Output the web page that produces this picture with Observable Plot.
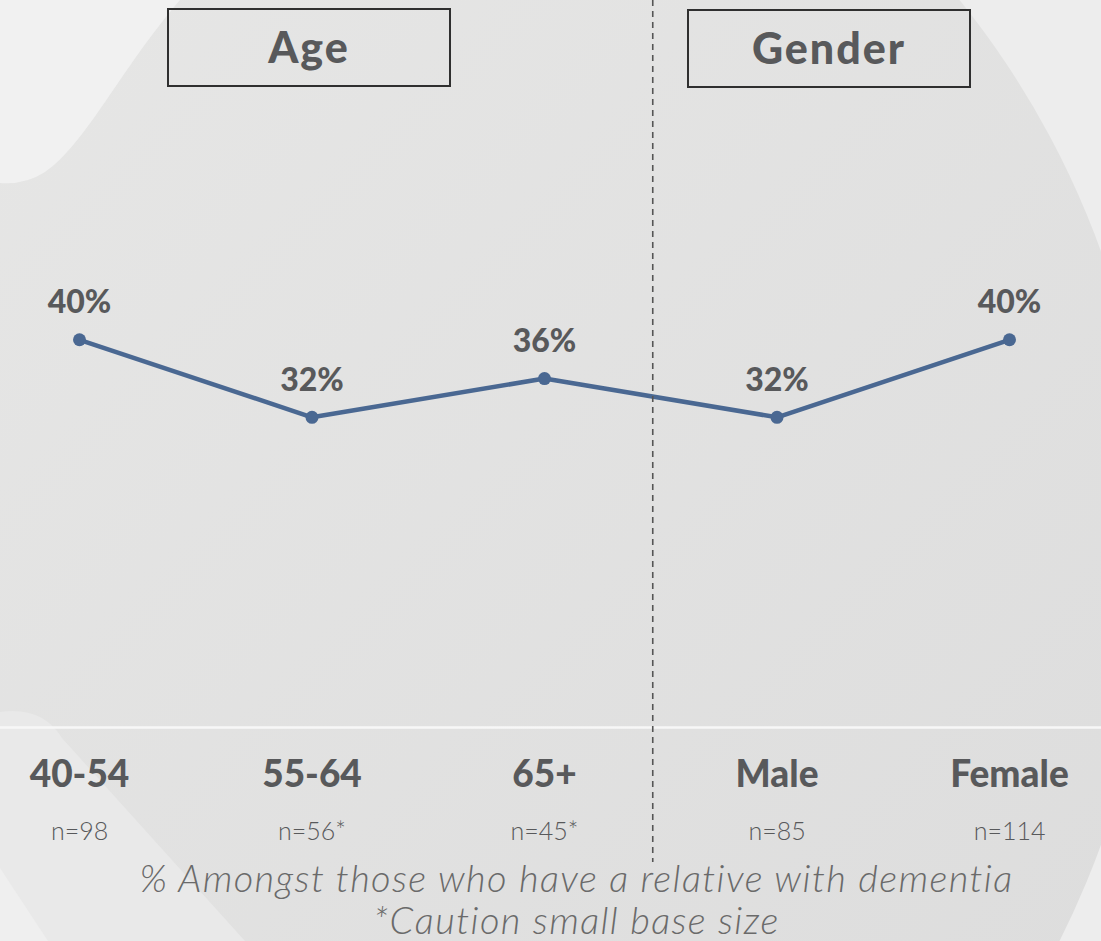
<!DOCTYPE html>
<html>
<head>
<meta charset="utf-8">
<script src="https://cdn.jsdelivr.net/npm/d3@7"></script>
<script src="https://cdn.jsdelivr.net/npm/@observablehq/plot@0.6"></script>
<style>
  html, body { margin: 0; padding: 0; background: #ededed; }
  #wrap { position: relative; width: 1101px; height: 941px; overflow: hidden; font-family: Lato, "Open Sans", sans-serif; }
  #bg { position: absolute; left: 0; top: 0; }
  #chart { position: absolute; left: 0; top: 0; }
  .hdr { position: absolute; box-sizing: border-box; border: 2px solid #2f2f2f; display: flex; align-items: center; justify-content: center;
         font-weight: 900; font-size: 43px; color: #58595b; letter-spacing: 2px; padding-bottom: 2px; }
  #caption { position: absolute; left: 0; top: 856px; width: 1101px; box-sizing: border-box; padding-left: 52px; text-align: center;
             font-style: italic; font-weight: 300; font-size: 38px; line-height: 42px; color: #6a6a6a; letter-spacing: 1.4px; }
</style>
</head>
<body>
<div id="wrap">
  <svg id="bg" width="1101" height="941">
    <defs>
      <linearGradient id="g1" x1="0" y1="0" x2="1" y2="1">
        <stop offset="0" stop-color="#eaeae9"/>
        <stop offset="1" stop-color="#dbdbdb"/>
      </linearGradient>
    </defs>
    <rect width="1101" height="941" fill="#ededed"/>
    <circle cx="280" cy="548" r="873" fill="url(#g1)"/>
    <path d="M0,0 L180,0 C120,70 85,145 45,172 Q25,185 0,183 Z" fill="#f1f1f1"/>
    <path d="M0,712 Q42,706 62,738 L245,941 L0,941 Z" fill="#e9e9e9"/>
    <path d="M0,868 L48,941 L0,941 Z" fill="#efefef"/>
  </svg>
  <div id="chart"></div>
  <div class="hdr" id="hAge" style="left:167px; top:8px; width:284px; height:79px;"></div>
  <div class="hdr" id="hGender" style="left:687px; top:9px; width:284px; height:79px;"></div>
  <div id="caption"></div>
</div>
<script>
const categories = ["40-54", "55-64", "65+", "Male", "Female"];
const values = [40, 32, 36, 32, 40];
const bases = ["n=98", "n=56*", "n=45*", "n=85", "n=114"];
const groupTitles = ["Age", "Gender"];
const captionLines = ["% Amongst those who have a relative with dementia", "*Caution small base size"];
const ageCount = 3;

const data = categories.map((c, i) => ({i, cat: c, v: values[i], n: bases[i]}));
const divider = [(ageCount - 1 + ageCount) / 2];

const ink = "#58595b";
const blue = "#4a6892";

const plot = Plot.plot({
  width: 1101,
  height: 862,
  margin: 0,
  x: {domain: [0, categories.length - 1], range: [79, 1009], axis: null},
  y: {domain: [0, 75], range: [727, 0], axis: null},
  style: {background: "transparent", fontFamily: "Lato, 'Open Sans', sans-serif", overflow: "visible"},
  marks: [
    Plot.ruleY([0], {stroke: "#f7f7f7", strokeWidth: 2.5}),
    Plot.line(data, {x: "i", y: "v", stroke: blue, strokeWidth: 4.5}),
    Plot.dot(data, {x: "i", y: "v", r: 6.5, fill: blue}),
    Plot.ruleX(divider, {dx: -8, stroke: "#555", strokeWidth: 1.6, strokeDasharray: "6,5"}),
    Plot.text(data, {x: "i", y: "v", text: d => d.v + "%", dy: -37, fontSize: 32, fontWeight: 900, fill: ink, ariaLabel: "pct"}),
    Plot.text(data, {x: "i", y: () => 0, text: "cat", dy: 48, fontSize: 37, fontWeight: 900, fill: ink, ariaLabel: "cats"}),
    Plot.text(data, {x: "i", y: () => 0, text: "n", dy: 104, fontSize: 25, fontWeight: 300, fill: ink, ariaLabel: "bases"})
  ]
});
d3.select(plot).selectAll('g[aria-label="pct"] text').style("letter-spacing", "1.5px");
d3.select(plot).selectAll('g[aria-label="cats"] text').style("letter-spacing", "2px");
d3.select(plot).selectAll('g[aria-label="bases"] text').style("letter-spacing", "2.5px");
document.getElementById("chart").appendChild(plot);
document.getElementById("hAge").textContent = groupTitles[0];
document.getElementById("hGender").textContent = groupTitles[1];
document.getElementById("caption").innerHTML = captionLines.map(s => `<div>${s}</div>`).join("");
</script>
</body>
</html>
